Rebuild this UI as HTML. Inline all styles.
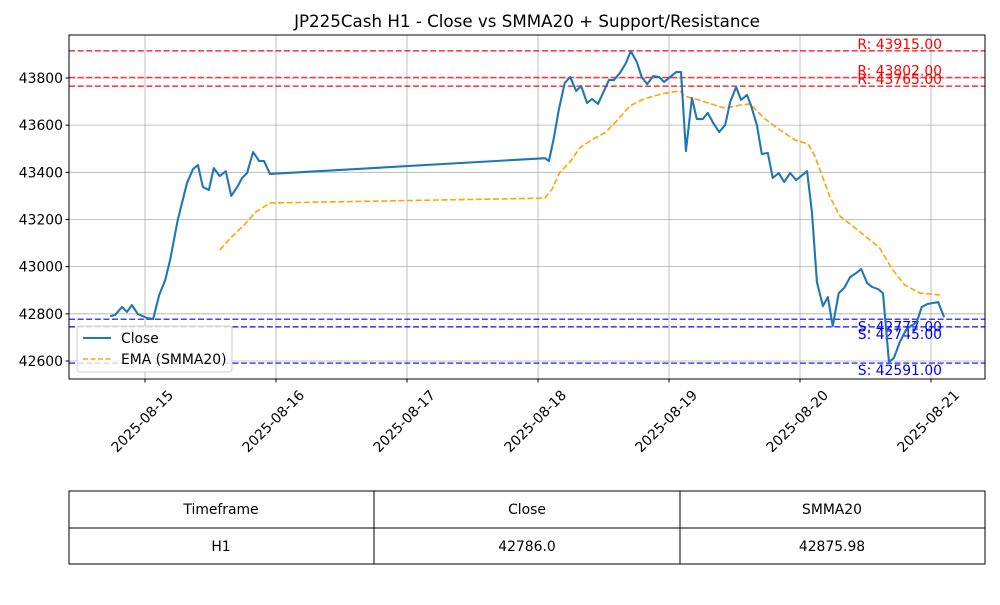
<!DOCTYPE html>
<html><head><meta charset="utf-8"><style>
body{margin:0;background:#fff;font-family:"Liberation Sans","DejaVu Sans",sans-serif}
svg text{font-family:"DejaVu Sans","Liberation Sans",sans-serif}
</style></head><body>
<svg id="chart" width="1000" height="600" viewBox="0 0 1000 600" xmlns="http://www.w3.org/2000/svg">
<rect width="1000" height="600" fill="#fff"/>
<text x="527" y="27" font-size="16.7" text-anchor="middle">JP225Cash H1 - Close vs SMMA20 + Support/Resistance</text>
<g id="grid"></g><g id="levels"></g><g id="series"></g><g id="axes"></g>
<g>
<rect x="77" y="326" width="155" height="46" rx="3" fill="#fff" fill-opacity="0.8" stroke="#ccc"/>
<line x1="83" y1="338" x2="111" y2="338" stroke="#1f77b4" stroke-width="2"/>
<text x="121" y="343" font-size="13.9">Close</text>
<line x1="83" y1="359" x2="111" y2="359" stroke="orange" stroke-width="1.5" stroke-dasharray="5,2.5"/>
<text x="121" y="364" font-size="13.9">EMA (SMMA20)</text>
</g>
<g font-size="13.9" text-anchor="middle">
<rect x="69" y="491" width="916" height="73" fill="none" stroke="#000"/>
<line x1="69" y1="528" x2="985" y2="528" stroke="#000"/>
<line x1="374" y1="491" x2="374" y2="564" stroke="#000"/>
<line x1="680" y1="491" x2="680" y2="564" stroke="#000"/>
<text x="221" y="514">Timeframe</text>
<text x="527" y="514">Close</text>
<text x="832" y="514">SMMA20</text>
<text x="221" y="551">H1</text>
<text x="527" y="551">42786.0</text>
<text x="832" y="551">42875.98</text>
</g>
</svg>
<script>
const closeH=[-6.4,-5.5,-4.2,-3.3,-2.4,-1.3,0.4,1.5,2.6,3.7,4.6,6.0,7.7,8.8,9.7,10.6,11.7,12.6,13.7,14.8,15.8,16.9,17.8,18.7,19.8,20.9,21.8,22.9,73.3,74.0,74.9,75.8,76.9,77.9,79.0,79.9,81.0,81.9,83.0,83.9,85.0,85.9,87.0,88.1,89.0,90.1,91.0,92.0,93.1,94.2,95.1,96.2,97.3,98.2,99.1,100.2,101.1,102.2,103.1,104.2,105.2,106.3,107.2,108.3,109.2,110.3,111.0,112.1,113.0,114.1,115.0,116.1,117.1,118.2,119.3,120.2,121.3,122.2,123.1,124.2,125.1,126.0,127.1,128.1,129.2,130.3,131.2,132.3,133.2,134.3,135.2,136.3,137.2,138.3,139.4,140.3,141.4,142.3,143.4,144.4,145.3,146.4];
const closeV=[42790,42795,42829,42808,42837,42799,42782,42778,42880,42943,43028,43198,43355,43414,43431,43338,43325,43418,43384,43405,43300,43338,43376,43397,43486,43448,43448,43393,43460,43448,43545,43664,43779,43804,43745,43766,43694,43711,43690,43736,43791,43791,43821,43863,43914,43868,43804,43774,43808,43804,43783,43804,43825,43825,43490,43715,43626,43626,43652,43605,43571,43601,43698,43762,43707,43728,43685,43601,43478,43482,43376,43397,43359,43397,43367,43384,43405,43228,42935,42833,42871,42748,42888,42910,42956,42973,42990,42931,42914,42905,42888,42596,42613,42681,42731,42748,42765,42829,42842,42846,42850,42786];
const emaH=[13.7,15.6,18.3,20.2,22.9,72.0,73.3,74.6,76.0,77.9,79.7,82.4,84.3,86.1,88.9,91.6,95.3,98.0,98.9,101.7,104.4,106.3,109.0,110.8,113.6,116.3,119.1,121.5,122.7,125.5,127.3,131.0,134.6,137.0,139.2,142.0,145.6];
const emaV=[43070,43120,43180,43230,43270,43290,43292,43330,43400,43445,43505,43545,43568,43610,43683,43713,43736,43745,43723,43705,43685,43672,43685,43690,43626,43580,43537,43520,43470,43295,43215,43147,43079,42986,42922,42888,42880];
const resistance=[43915,43802,43765];
const support=[42777,42745,42591];
const yTicks=[42600,42800,43000,43200,43400,43600,43800];
const xTicks=["2025-08-15","2025-08-16","2025-08-17","2025-08-18","2025-08-19","2025-08-20","2025-08-21"];
const L=69,R=985,T=35,B=379;
const xS=h=>145+131*h/24;
const yS=v=>361-(v-42600)*47.17/200;
const NS="http://www.w3.org/2000/svg";
function mk(p,t,a){const e=document.createElementNS(NS,t);for(const k in a)e.setAttribute(k,a[k]);p.appendChild(e);return e;}
const grid=document.getElementById('grid'),axes=document.getElementById('axes'),lv=document.getElementById('levels'),se=document.getElementById('series');
yTicks.forEach(v=>{const y=yS(v);
 const g=mk(grid,'line',{x1:L,x2:R,y1:y,y2:y,stroke:'#b0b0b0','stroke-width':0.8});
 
 
 mk(axes,'line',{x1:L-3.5,x2:L,y1:y,y2:y,stroke:'#000'});
 const t=mk(axes,'text',{x:L-6,y:y+5,'font-size':13.9,'text-anchor':'end'});t.textContent=v;
 
 
});
xTicks.forEach((s,i)=>{const x=xS(i*24);
 const g=mk(grid,'line',{x1:x,x2:x,y1:T,y2:B,stroke:'#b0b0b0','stroke-width':0.8});
 
 
 mk(axes,'line',{x1:x,x2:x,y1:B,y2:B+3.5,stroke:'#000'});
 const cx=x-3,cy=421;
 const t=mk(axes,'text',{x:cx,y:cy+5,'font-size':13.9,'text-anchor':'middle',transform:`rotate(-45 ${cx} ${cy})`});t.textContent=s;
 
 
});
mk(axes,'rect',{x:L,y:T,width:R-L,height:B-T,fill:'none',stroke:'#000','stroke-width':1});
resistance.forEach(v=>{const y=yS(v);
 const l=mk(lv,'line',{x1:L,x2:R,y1:y,y2:y,stroke:'red','stroke-opacity':0.75,'stroke-width':1.6,'stroke-dasharray':'6,2.6'});
 
 
 const t=mk(lv,'text',{x:942,y:y-2,'font-size':13.9,'text-anchor':'end',fill:'red'});t.textContent='R: '+v.toFixed(2);
 
 
});
support.forEach(v=>{const y=yS(v);
 const l=mk(lv,'line',{x1:L,x2:R,y1:y,y2:y,stroke:'blue','stroke-opacity':0.75,'stroke-width':1.6,'stroke-dasharray':'6,2.6'});
 
 
 const t=mk(lv,'text',{x:942,y:y+12,'font-size':13.9,'text-anchor':'end',fill:'blue'});t.textContent='S: '+v.toFixed(2);
 
 
});
const ep=mk(se,'polyline',{points:emaH.map((h,i)=>xS(h)+','+yS(emaV[i])).join(' '),fill:'none',stroke:'orange','stroke-width':1.6,'stroke-dasharray':'6,2.6'});


const cp=mk(se,'polyline',{points:closeH.map((h,i)=>xS(h)+','+yS(closeV[i])).join(' '),fill:'none',stroke:'#1f77b4','stroke-width':2.1,'stroke-linejoin':'round'});


</script>
</body></html>
